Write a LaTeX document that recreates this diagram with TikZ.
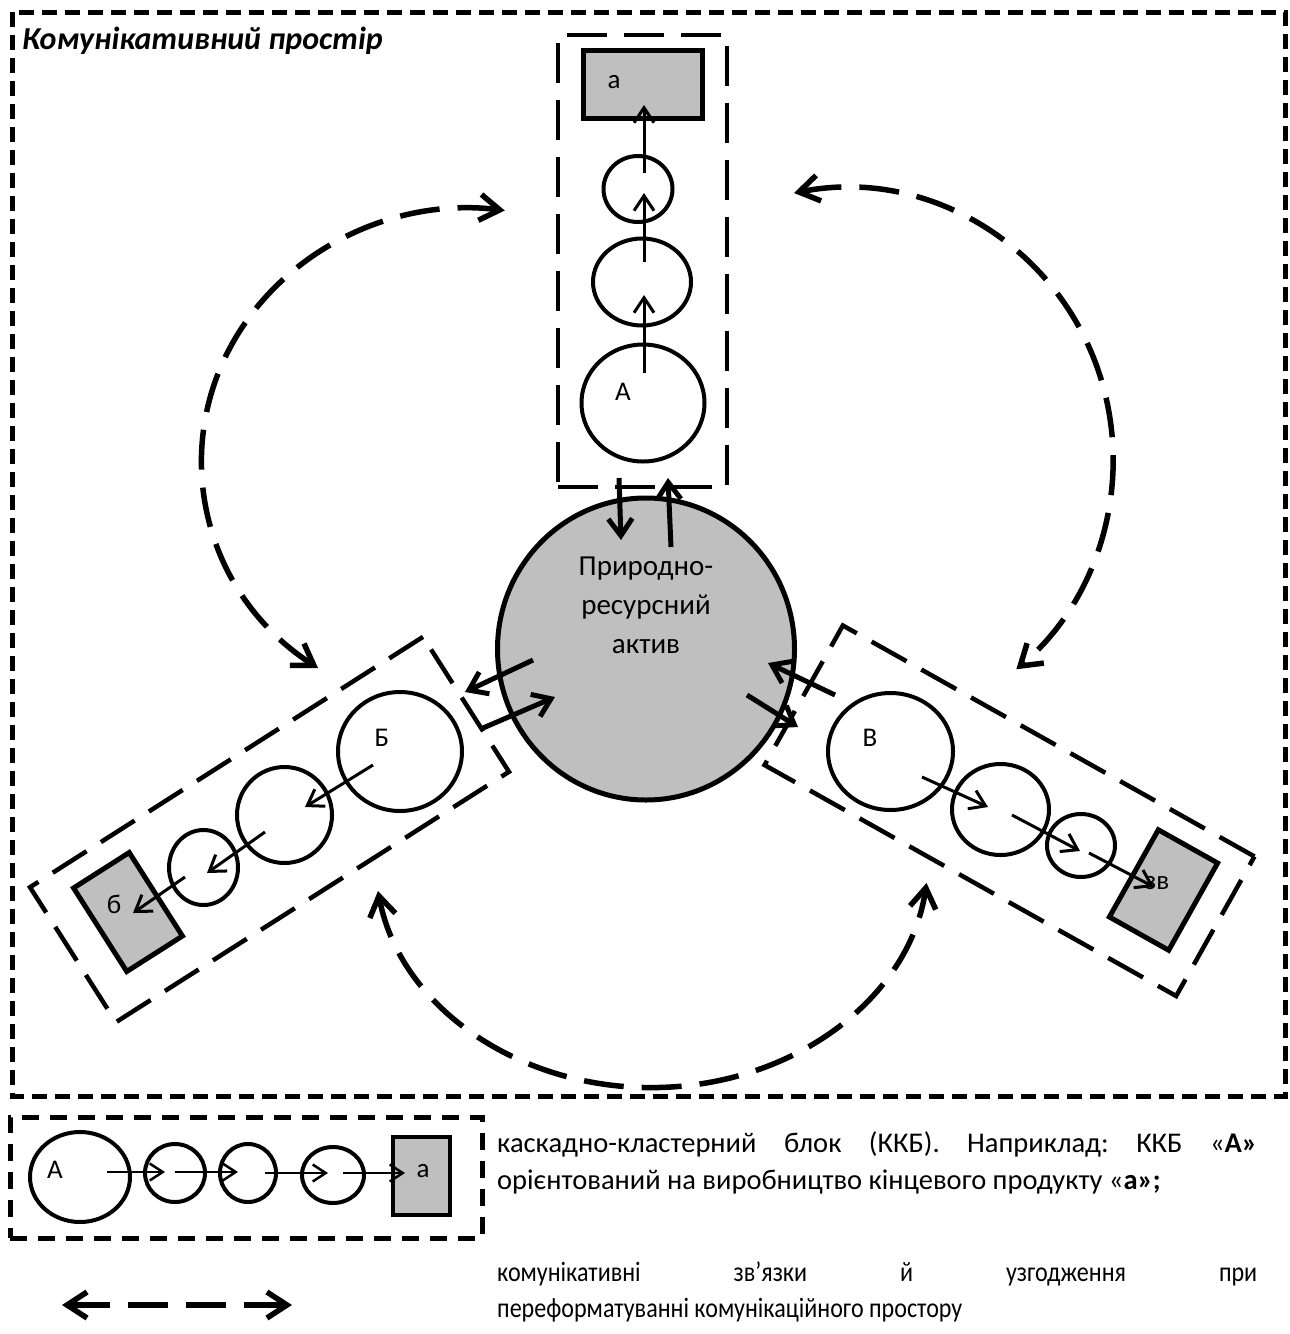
\documentclass[tikz,border=0pt]{standalone}
\usepackage{fontspec}
\setmainfont{Carlito}
\newfontfamily\kkbfont{Carlito}
\newfontfamily\commfont{Carlito}[FakeStretch=0.86]
\usetikzlibrary{arrows.meta,shapes.geometric}
\definecolor{assetgrey}{HTML}{BFBFBF}
\frenchspacing

\begin{document}
\begin{tikzpicture}[x=1pt,y=-1pt,
  font=\fontsize{27}{32}\selectfont,
  space/.style={line width=5pt, dash pattern=on 15pt off 8pt},
  kkb/.style={draw, line width=4.5pt, dash pattern=on 40pt off 17pt, inner sep=0pt},
  legendbox/.style={draw, line width=5pt, dash pattern=on 17pt off 11pt, inner sep=0pt},
  stage/.style={draw, ellipse, line width=4pt, inner sep=0pt},
  product/.style={draw, line width=5pt, fill=assetgrey, inner sep=0pt},
  flow/.style={line width=3pt, -{Straight Barb[length=15pt,width=20pt]}},
  lflow/.style={line width=2.5pt, -{Straight Barb[length=13pt,width=17pt]}},
  link/.style={line width=5pt, -{Straight Barb[length=17pt,width=24pt]}},
  comm/.style={line width=5.5pt, dash pattern=on 40pt off 18pt,
    {Straight Barb[length=20pt,width=26pt]}-{Straight Barb[length=20pt,width=26pt]}},
  lbl/.style={inner sep=0pt},
  legendtext/.style={inner sep=0pt, anchor=base west}
]
\useasboundingbox (0,0) rectangle (1290,1334);

% communicative space frame and its title
\draw[space] (12,12) rectangle (1285,1096);
\node[lbl, anchor=base west, font=\fontsize{32}{38}\selectfont\bfseries\itshape]
  (title) at (22,49) {Комунікативний простір};

% central natural-resource asset
\node[draw, ellipse, line width=5pt, fill=assetgrey, inner sep=0pt,
  minimum width=297pt, minimum height=302pt] (asset) at (646,649) {};
\node[align=center, font=\fontsize{29}{39}\selectfont, inner sep=0pt]
  (assettext) at (646,605) {Природно-\\ресурсний\\актив};

% ---------- block A (vertical) ----------
\node[kkb, minimum width=169pt, minimum height=452pt] (blockA) at (642.5,261) {};
\node[product, minimum width=119pt, minimum height=68pt] (prodA) at (642.5,84) {};
\node[lbl] (prodAtext) at (614,82) {а};
\node[stage, minimum width=123pt, minimum height=117pt] (A1) at (643,403) {};
\node[stage, minimum width=98pt, minimum height=87pt] (A2) at (642,282) {};
\node[stage, minimum width=69pt, minimum height=66pt] (A3) at (638,189) {};
\node[lbl] (A1text) at (623,392) {А};
\coordinate (a1s) at (644,373); \coordinate (a1e) at (644,295);
\coordinate (a2s) at (644,262); \coordinate (a2e) at (644,193);
\coordinate (a3s) at (644,173); \coordinate (a3e) at (644,105);
\draw[flow] (a1s) -- (a1e);
\draw[flow] (a2s) -- (a2e);
\draw[flow] (a3s) -- (a3e);

% ---------- block Б (rotated up-right) ----------
\node[kkb, minimum width=466pt, minimum height=160pt, rotate=32.5] (blockB) at (269.5,829.5) {};
\node[product, minimum width=66pt, minimum height=99pt, rotate=32.5] (prodB) at (128,912) {};
\node[lbl] (prodBtext) at (114,904) {б};
\node[stage, minimum width=124pt, minimum height=119pt] (B1) at (400,751.5) {};
\node[stage, minimum width=95pt, minimum height=96pt] (B2) at (284.5,815) {};
\node[stage, minimum width=69pt, minimum height=75pt] (B3) at (203.5,867.5) {};
\node[lbl] (B1text) at (382,738) {Б};
\coordinate (b1s) at (373,765); \coordinate (b1e) at (305,807);
\coordinate (b2s) at (265,832); \coordinate (b2e) at (207,873);
\coordinate (b3s) at (185,877); \coordinate (b3e) at (133,913);
\draw[flow] (b1s) -- (b1e);
\draw[flow] (b2s) -- (b2e);
\draw[flow] (b3s) -- (b3e);

% ---------- block В (rotated down-right) ----------
\node[kkb, minimum width=472pt, minimum height=160pt, rotate=-29.3] (blockV) at (1009.5,810.75) {};
\node[product, minimum width=68pt, minimum height=100pt, rotate=-29.3] (prodV) at (1163.5,890) {};
\node[lbl] (prodVtext) at (1157,883) {зв};
\node[stage, minimum width=125pt, minimum height=117pt] (V1) at (890.5,751.5) {};
\node[stage, minimum width=97pt, minimum height=91pt] (V2) at (1000.5,809.5) {};
\node[stage, minimum width=68pt, minimum height=63pt] (V3) at (1081,845.5) {};
\node[lbl] (V1text) at (870,738) {В};
\coordinate (v1s) at (922,777); \coordinate (v1e) at (988,807);
\coordinate (v2s) at (1012,815); \coordinate (v2e) at (1080,851);
\coordinate (v3s) at (1089,853); \coordinate (v3e) at (1154,887);
\draw[flow] (v1s) -- (v1e);
\draw[flow] (v2s) -- (v2e);
\draw[flow] (v3s) -- (v3e);

% ---------- exchanges between the asset and the blocks ----------
\coordinate (ad0) at (619,478); \coordinate (ad1) at (621,540);
\coordinate (au0) at (671,547); \coordinate (au1) at (668,478);
\coordinate (bo0) at (533,660); \coordinate (bo1) at (465,692);
\coordinate (bi0) at (483,728); \coordinate (bi1) at (555,697);
\coordinate (vi0) at (835,695); \coordinate (vi1) at (768,663);
\coordinate (vo0) at (747,695); \coordinate (vo1) at (798,727);
\draw[link] (ad0) -- (ad1);
\draw[link] (au0) -- (au1);
\draw[link] (bo0) -- (bo1);
\draw[link] (bi0) -- (bi1);
\draw[link] (vi0) -- (vi1);
\draw[link] (vo0) -- (vo1);

% ---------- communicative links between the blocks ----------
\coordinate (arcAB) at (318,668);
\draw[comm] (arcAB) arc[start angle=124.5, end angle=277.5, x radius=268, y radius=252];
\coordinate (arcAV) at (794,193);
\draw[comm] (arcAV) arc[start angle=-101, end angle=50.3, x radius=268, y radius=272];
\coordinate (arcBV) at (378,891);
\draw[comm] (arcBV) arc[start angle=171, end angle=7, x radius=277, y radius=233];

% ---------- legend ----------
\node[legendbox, minimum width=472pt, minimum height=121pt] (legkkb) at (246,1177.5) {};
\node[stage, minimum width=100pt, minimum height=90pt] (L1) at (80,1177) {};
\node[stage, minimum width=60pt, minimum height=58pt] (L2) at (175,1173) {};
\node[stage, minimum width=56pt, minimum height=58pt] (L3) at (248,1173) {};
\node[stage, minimum width=62pt, minimum height=56pt] (L4) at (333,1175) {};
\node[product, line width=4.5pt, minimum width=57pt, minimum height=78pt] (Lprod) at (421.5,1176) {};
\node[lbl] (L1text) at (55,1170) {А};
\node[lbl] (Lprodtext) at (423,1171) {а};
\coordinate (l1s) at (107,1172); \coordinate (l1e) at (165,1172);
\coordinate (l2s) at (175,1172); \coordinate (l2e) at (238,1172);
\coordinate (l3s) at (265,1173); \coordinate (l3e) at (328,1173);
\coordinate (l4s) at (343,1173); \coordinate (l4e) at (405,1173);
\draw[lflow] (l1s) -- (l1e);
\draw[lflow] (l2s) -- (l2e);
\draw[lflow] (l3s) -- (l3e);
\draw[lflow] (l4s) -- (l4e);

\node[legendtext, font=\fontsize{28.5}{34}\kkbfont] (kkbtext1) at (497,1152)
  {\makebox[760pt][s]{каскадно-кластерний блок (ККБ). Наприклад: ККБ «\textbf{А»}}};
\node[legendtext, font=\fontsize{28.5}{34}\kkbfont] (kkbtext2) at (497,1189)
  {орієнтований на виробництво кінцевого продукту «\textbf{а»;}};

\coordinate (legL) at (62,1305); \coordinate (legR) at (292,1305);
\draw[comm] (legL) -- (legR);
\node[legendtext, font=\fontsize{28}{34}\commfont] (commtext1) at (497,1281)
  {\makebox[760pt][s]{комунікативні зв’язки й узгодження при}};
\node[legendtext, font=\fontsize{28}{34}\commfont] (commtext2) at (497,1317)
  {переформатуванні комунікаційного простору};
\end{tikzpicture}
\end{document}
